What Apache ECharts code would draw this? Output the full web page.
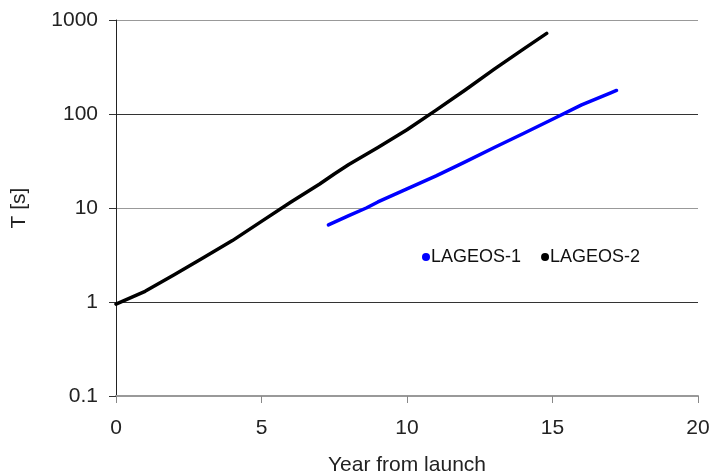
<!DOCTYPE html>
<html>
<head>
<meta charset="utf-8">
<script src="https://cdn.jsdelivr.net/npm/echarts@6/dist/echarts.min.js"></script>
<style>html,body{margin:0;padding:0;background:#fff}#c{width:711px;height:476px}</style>
</head>
<body>
<div id="c"></div>
<script>
var lageos2X = [0, 1, 2, 3, 4, 5, 6, 7, 7.5, 8, 9, 10, 11, 12, 13, 14, 14.8];
var lageos2Y = [0.95, 1.3, 1.95, 2.95, 4.5, 7.2, 11.5, 18, 23, 29, 44, 68, 110, 180, 300, 490, 720];
var lageos1X = [7.3, 8, 8.6, 9, 10, 11, 12, 13, 14, 15, 16, 17, 17.2];
var lageos1Y = [6.6, 8.3, 10, 11.6, 16, 22, 31, 44, 62, 88, 125, 168, 178];
var xTicks = [0, 5, 10, 15, 20];
var yTicks = [0.1, 1, 10, 100, 1000];

function pairs(xs, ys) { return xs.map(function (x, i) { return [x, ys[i]]; }); }

var chart = echarts.init(document.getElementById('c'));
var font = 'Liberation Sans, Arial, sans-serif';
chart.setOption({
  animation: false,
  backgroundColor: '#fff',
  grid: { left: 116, right: 13, top: 20, bottom: 80, containLabel: false, outerBoundsMode: 'none' },
  legend: {
    left: 417, top: 243, icon: 'circle', itemWidth: 8, itemHeight: 8, itemGap: 20,
    textStyle: { fontFamily: font, fontSize: 18, color: '#111', padding: [0, 0, 0, -4] },
    data: ['LAGEOS-1', 'LAGEOS-2']
  },
  xAxis: {
    type: 'value', min: xTicks[0], max: xTicks[xTicks.length - 1], interval: 5,
    name: 'Year from launch', nameLocation: 'middle', nameGap: 59,
    nameTextStyle: { fontFamily: font, fontSize: 21, color: '#222' },
    axisLine: { lineStyle: { color: '#999', width: 2 } },
    axisTick: { show: true, length: 7, lineStyle: { color: '#888' } },
    axisLabel: { fontFamily: font, fontSize: 21, color: '#222', margin: 22 },
    splitLine: { show: false }
  },
  yAxis: {
    type: 'log', logBase: 10, min: yTicks[0], max: yTicks[yTicks.length - 1],
    name: 'T [s]', nameLocation: 'middle', nameGap: 86, nameRotate: 90,
    nameTextStyle: { fontFamily: font, fontSize: 21, color: '#222' },
    axisLine: { show: true, lineStyle: { color: '#222', width: 1 } },
    axisTick: { show: true, length: 7, lineStyle: { color: '#333' } },
    axisLabel: {
      fontFamily: font, fontSize: 21, color: '#222', margin: 18,
      formatter: function (v) { return String(+v.toPrecision(3)); }
    },
    splitLine: { show: true, lineStyle: { color: ['#999', '#333', '#999', '#333', '#999'], width: 1 } }
  },
  series: [
    {
      name: 'LAGEOS-1', type: 'line', data: pairs(lageos1X, lageos1Y),
      showSymbol: false, smooth: false, color: '#0000ff',
      lineStyle: { width: 3.5, color: '#0000ff', join: 'round', cap: 'round' }, z: 3
    },
    {
      name: 'LAGEOS-2', type: 'line', data: pairs(lageos2X, lageos2Y),
      showSymbol: false, smooth: false, color: '#000',
      lineStyle: { width: 3.5, color: '#000', join: 'round', cap: 'round' }, z: 4
    }
  ]
});
</script>
</body>
</html>
